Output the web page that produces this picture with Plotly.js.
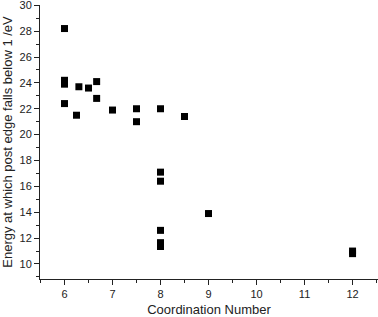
<!DOCTYPE html>
<html>
<head>
<meta charset="utf-8">
<script src="https://cdn.plot.ly/plotly-3.0.1.min.js"></script>
<style>html,body{margin:0;padding:0;background:#fff;}#chart{width:378px;height:317px;}</style>
</head>
<body>
<div id="chart"></div>
<script>
var coordination = [6, 6, 6, 6, 6.3, 6.5, 6.67, 6.67, 6.25, 7, 7.5, 7.5, 8, 8.5, 8, 8, 8, 8, 8, 9, 12, 12];
var energy = [28.2, 24.2, 23.9, 22.4, 23.7, 23.6, 24.1, 22.8, 21.5, 21.9, 22.0, 21.0, 22.0, 21.4, 17.1, 16.4, 12.6, 11.65, 11.35, 13.9, 11.0, 10.8];
var yTickVals = [10, 12, 14, 16, 18, 20, 22, 24, 26, 28, 30];
var xTitle = "Coordination Number";
var yTitle = "Energy at which post edge falls below 1 /eV";

var trace = {
  x: coordination, y: energy, type: 'scatter', mode: 'markers',
  marker: {symbol: 'square', size: 7, color: '#000'},
  hoverinfo: 'none', cliponaxis: false
};
var font = {family: 'Liberation Sans, Arial, sans-serif', color: '#222'};
var layout = {
  width: 378, height: 317,
  margin: {l: 40, r: 0, t: 5, b: 38},
  paper_bgcolor: '#fff', plot_bgcolor: '#fff',
  showlegend: false,
  font: font,
  xaxis: {
    range: [5.49, 12.53], dtick: 1, tick0: 0,
    showgrid: false, zeroline: false, showline: true, linecolor: '#222', linewidth: 1,
    ticks: 'outside', ticklen: 5, tickwidth: 1, tickcolor: '#222',
    minor: {dtick: 0.5, tick0: 0, ticks: 'outside', ticklen: 3, tickcolor: '#222', showgrid: false},
    tickfont: {size: 11, color: '#222', family: font.family},
    ticklabeloverflow: 'allow',
    title: {text: xTitle, font: {size: 13, color: '#222', family: font.family}, standoff: 11}
  },
  yaxis: {
    range: [8.84, 30.02], tickmode: 'array', tickvals: yTickVals,
    showgrid: false, zeroline: false, showline: true, linecolor: '#222', linewidth: 1,
    ticks: 'outside', ticklen: 5, tickwidth: 1, tickcolor: '#222',
    minor: {dtick: 1, tick0: 0, ticks: 'outside', ticklen: 3, tickcolor: '#222', showgrid: false},
    tickfont: {size: 11, color: '#222', family: font.family},
    ticklabeloverflow: 'allow',
    title: {text: yTitle, font: {size: 13, color: '#222', family: font.family}, standoff: 5}
  }
};
Plotly.newPlot('chart', [trace], layout, {displayModeBar: false, staticPlot: true});
</script>
</body>
</html>
